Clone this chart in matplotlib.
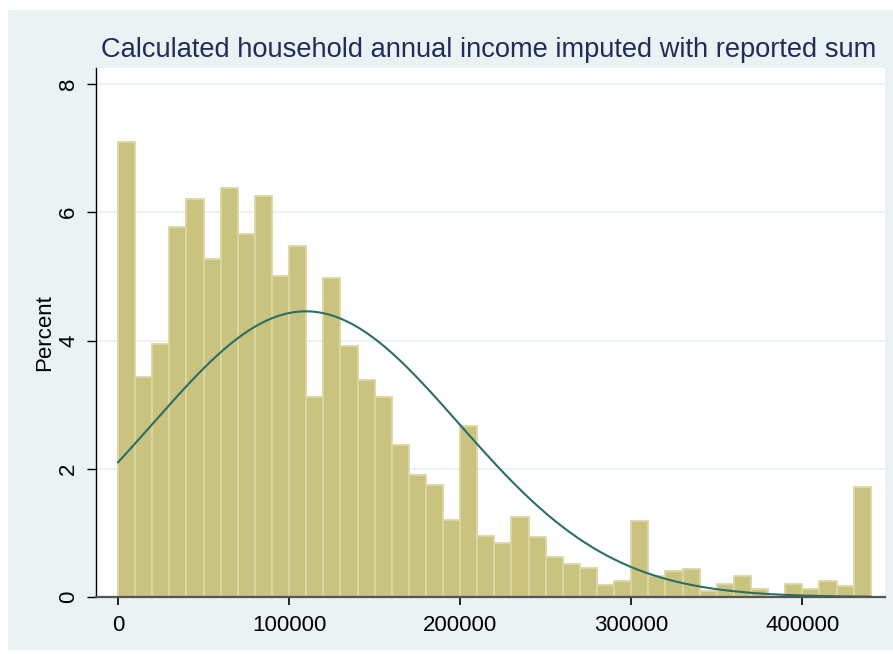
import numpy as np
import matplotlib
matplotlib.use("Agg")
import matplotlib.pyplot as plt
from matplotlib.patches import Rectangle

plt.rcParams['font.family'] = ['Liberation Sans', 'DejaVu Sans']

# Data
bin_width = 10000
bin_start = 0
percent = [7.09, 3.43, 3.94, 5.77, 6.20, 5.27, 6.38, 5.66, 6.25, 5.01,
           5.47, 3.12, 4.98, 3.92, 3.38, 3.12, 2.37, 1.90, 1.74, 1.20,
           2.66, 0.95, 0.84, 1.24, 0.93, 0.63, 0.51, 0.45, 0.18, 0.25,
           1.18, 0.33, 0.41, 0.44, 0.09, 0.20, 0.33, 0.12, 0.00, 0.21,
           0.12, 0.25, 0.17, 1.71]
normal_mean = 109800
normal_sd = 89550
x_ticks = [0, 100000, 200000, 300000, 400000]
y_ticks = [0, 2, 4, 6, 8]
title = "Calculated household annual income imputed with reported sum"
ylabel = "Percent"

W, H = 893, 654
fig = plt.figure(figsize=(W / 100, H / 100), dpi=100)
fig.patch.set_facecolor('white')
fig.patches.append(Rectangle((8 / W, 1 - 650 / H), (893 - 8) / W, (650 - 10) / H,
                             transform=fig.transFigure, facecolor='#EAF2F3',
                             edgecolor='none', zorder=-5))

ax = fig.add_axes([95.7 / W, 1 - 597 / H, (885 - 95.7) / W, (597 - 68.3) / H])
ax.set_zorder(2)
ax.set_facecolor('white')

n = len(percent)
lefts = bin_start + bin_width * np.arange(n)
ax.bar(lefts, percent, width=bin_width, align='edge', color='#CAC37F',
       edgecolor='#DCD6A2', linewidth=1.3, zorder=2)

xs = np.linspace(bin_start, bin_start + n * bin_width, 600)
ys = 100 * bin_width * np.exp(-0.5 * ((xs - normal_mean) / normal_sd) ** 2) / (normal_sd * np.sqrt(2 * np.pi))
ax.plot(xs, ys, color='#2A6E66', linewidth=1.5, zorder=3)

ax.set_xlim(-13050, 448350)
ax.set_ylim(0, 8.245)
ax.set_xticks(x_ticks)
ax.set_xticklabels([str(v) for v in x_ticks])
ax.set_yticks(y_ticks)
ax.set_yticklabels([str(v) for v in y_ticks], rotation=90, va='center')

ax.grid(axis='y', color='#EAF2F3', linewidth=1.5, zorder=1)
ax.set_axisbelow(True)

for s in ['top', 'right']:
    ax.spines[s].set_visible(False)
ax.spines['left'].set_color('black')
ax.spines['left'].set_linewidth(1.0)
ax.spines['bottom'].set_color('#555555')
ax.spines['bottom'].set_linewidth(1.6)
ax.spines['bottom'].set_zorder(4)

ax.tick_params(axis='x', length=5.8, width=1.2, color='black', labelsize=16, pad=7)
ax.tick_params(axis='y', length=6.5, width=1.0, color='black', labelsize=16, pad=5.3)

ax.set_ylabel(ylabel, fontsize=16, labelpad=2.5)

fig.text(488.5 / W, 1 - 57.3 / H, title, ha='center', va='baseline',
         fontsize=19.6, color='#1E2D5A')

fig.savefig('out.png', dpi=100, facecolor=fig.get_facecolor())
